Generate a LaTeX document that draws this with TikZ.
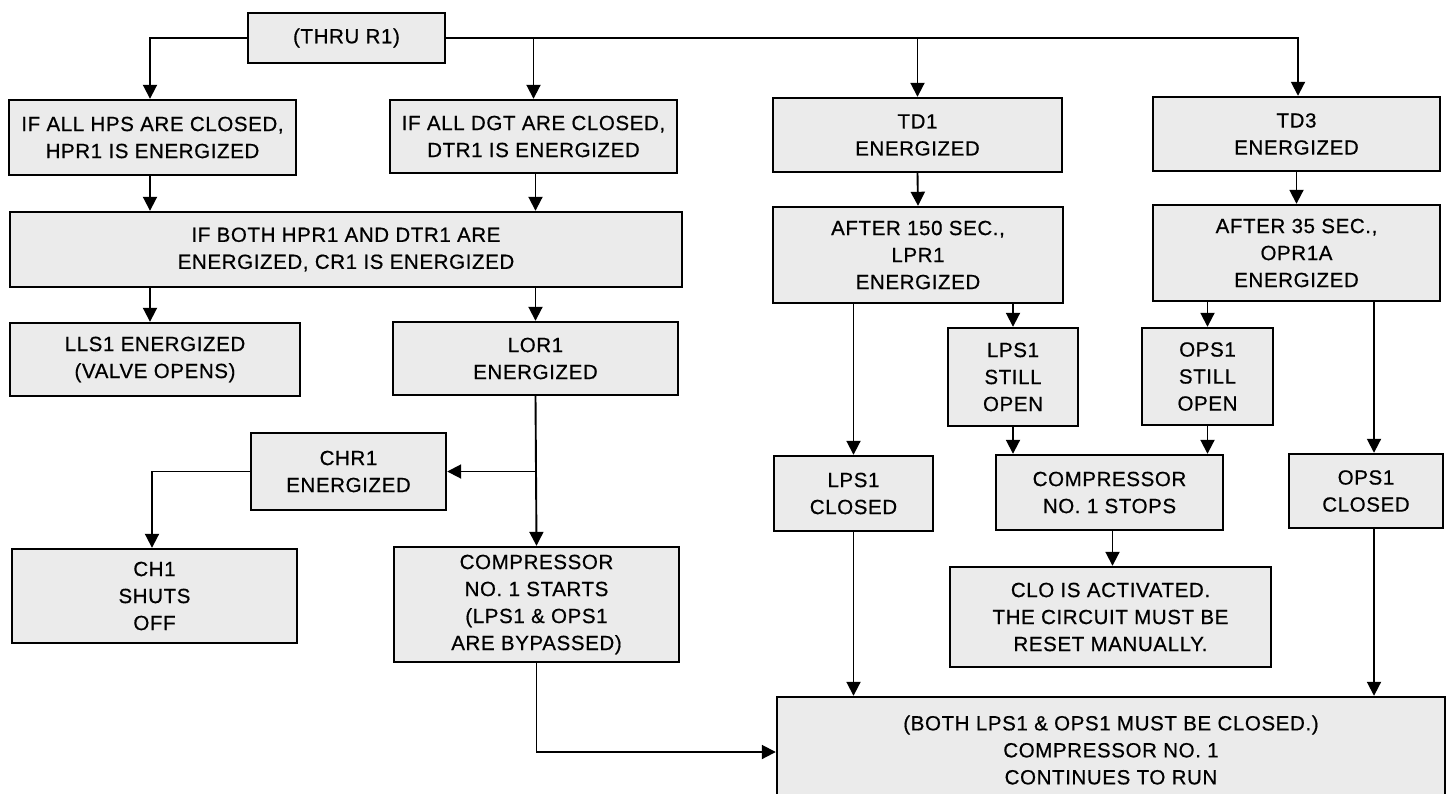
\documentclass[tikz,border=0pt]{standalone}
\usepackage{fontspec}
\setmainfont{Liberation Sans}[LetterSpace=3,FakeBold=0.6]
\usetikzlibrary{arrows.meta}
\begin{document}
\begin{tikzpicture}[x=1pt,y=-1pt,
  box/.style={draw, line width=2.4pt, fill=black!8, align=center, inner sep=0pt,
              font=\fontsize{20.5}{27}\selectfont, text=black},
  conn/.style={line width=1.9pt},
  arr/.style={conn, -{Triangle[width=14pt,length=14pt]}}]
\clip (0,0) rectangle (1450,793);
\useasboundingbox (0,0) rectangle (1450,793);
\fill[white] (0,0) rectangle (1450,793);

% boxes
\node[box, minimum width=197pt, minimum height=50pt] (thru) at (346.5,38) {(THRU R1)};
\node[box, minimum width=287pt, minimum height=75pt] (hps) at (152.5,137.5) {IF ALL HPS ARE CLOSED,\\HPR1 IS ENERGIZED};
\node[box, minimum width=287pt, minimum height=73pt] (dgt) at (533.5,136.5) {IF ALL DGT ARE CLOSED,\\DTR1 IS ENERGIZED};
\node[box, minimum width=289pt, minimum height=74pt] (td1) at (917.5,135) {TD1\\ENERGIZED};
\node[box, minimum width=287pt, minimum height=74pt] (td3) at (1296.5,134) {TD3\\ENERGIZED};
\node[box, minimum width=672pt, minimum height=75pt] (cr1) at (346,249.5) {IF BOTH HPR1 AND DTR1 ARE\\ENERGIZED, CR1 IS ENERGIZED};
\node[box, minimum width=290pt, minimum height=73pt] (lls) at (155,359.5) {LLS1 ENERGIZED\\(VALVE OPENS)};
\node[box, minimum width=285pt, minimum height=73pt] (lor) at (535.5,358.5) {LOR1\\ENERGIZED};
\node[box, minimum width=290pt, minimum height=96pt] (a150) at (918,255) {AFTER 150 SEC.,\\LPR1\\ENERGIZED};
\node[box, minimum width=287pt, minimum height=96pt] (a35) at (1296.5,253) {AFTER 35 SEC.,\\OPR1A\\ENERGIZED};
\node[box, minimum width=130pt, minimum height=98pt] (lpsopen) at (1013,377) {LPS1\\STILL\\OPEN};
\node[box, minimum width=131pt, minimum height=97pt] (opsopen) at (1207.5,376.5) {OPS1\\STILL\\OPEN};
\node[box, minimum width=159pt, minimum height=75pt] (lpsclosed) at (853.5,493.5) {LPS1\\CLOSED};
\node[box, minimum width=227pt, minimum height=75pt] (stops) at (1109.5,492.5) {COMPRESSOR\\NO. 1 STOPS};
\node[box, minimum width=154pt, minimum height=74pt] (opsclosed) at (1366,491) {OPS1\\CLOSED};
\node[box, minimum width=321pt, minimum height=100pt] (clo) at (1110.5,617) {CLO IS ACTIVATED.\\THE CIRCUIT MUST BE\\RESET MANUALLY.};
\node[box, minimum width=668pt, minimum height=106pt] (final) at (1111,750) {(BOTH LPS1 \& OPS1 MUST BE CLOSED.)\\COMPRESSOR NO. 1\\CONTINUES TO RUN};
\node[box, minimum width=195pt, minimum height=77pt] (chr1) at (348.5,471.5) {CHR1\\ENERGIZED};
\node[box, minimum width=285pt, minimum height=94pt] (ch1) at (154.5,596) {CH1\\SHUTS\\OFF};
\node[box, minimum width=285pt, minimum height=115pt] (starts) at (536.5,604.5) {COMPRESSOR\\NO. 1 STARTS\\(LPS1 \& OPS1\\ARE BYPASSED)};

% connectors
\draw[arr] (thru.west) -| ([xshift=-2.5pt]hps.north);
\draw[arr] (thru.east) -| ([xshift=1.5pt]td3.north);
\draw[arr] (thru.east -| dgt.north) -- (dgt.north);
\draw[arr] (thru.east -| td1.north) -- (td1.north);
\draw[arr] ([xshift=-2.5pt]hps.south) -- ([xshift=-2.5pt]hps.south |- cr1.north);
\draw[arr] ([xshift=2pt]dgt.south) -- ([xshift=2pt]dgt.south |- cr1.north);
\draw[arr] ([xshift=-5pt]lls.north |- cr1.south) -- ([xshift=-5pt]lls.north);
\draw[arr] (lor.north |- cr1.south) -- (lor.north);
\draw[arr] (lor.south) -- (starts.north);
\draw[arr] (lor.south |- chr1.east) -- (chr1.east);
\draw[arr] (chr1.west) -| ([xshift=-2.5pt]ch1.north);
\draw[arr] (starts.south) |- ([yshift=-2pt]final.west);
\draw[arr] (td1.south) -- (a150.north);
\draw[arr] (td3.south) -- (a35.north);
\draw[arr] (a150.south -| lpsopen.north) -- (lpsopen.north);
\draw[arr] (a150.south -| lpsclosed.north) -- (lpsclosed.north);
\draw[arr] (a35.south -| opsopen.north) -- (opsopen.north);
\draw[arr] ([xshift=8pt]a35.south -| opsclosed.north) -- ([xshift=8pt]opsclosed.north);
\draw[arr] (lpsopen.south) -- (lpsopen.south |- stops.north);
\draw[arr] (opsopen.south) -- (opsopen.south |- stops.north);
\draw[arr] ([xshift=3pt]stops.south) -- ([xshift=3pt]stops.south |- clo.north);
\draw[arr] (lpsclosed.south) -- (lpsclosed.south |- final.north);
\draw[arr] ([xshift=8pt]opsclosed.south) -- ([xshift=8pt]opsclosed.south |- final.north);
\end{tikzpicture}
\end{document}
